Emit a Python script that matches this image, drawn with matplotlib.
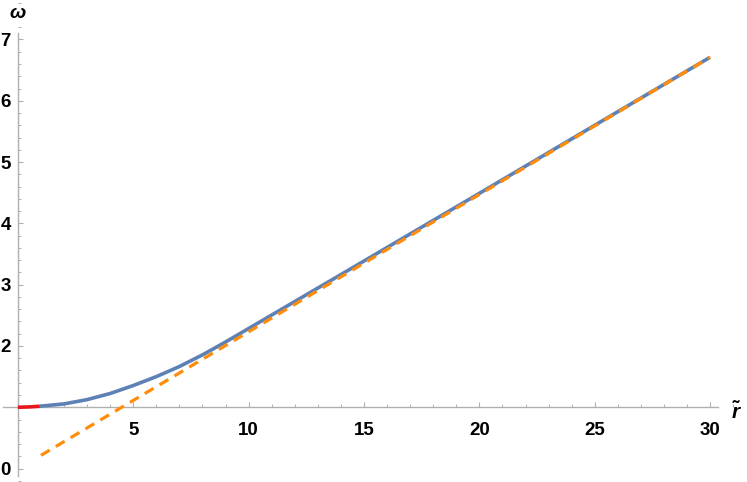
import matplotlib

matplotlib.use("Agg")
import matplotlib.pyplot as plt
from matplotlib.ticker import MultipleLocator

# values
red_r = [0.0, 0.5, 0.95]
red_w = [1.0, 1.006, 1.017]

blue_r = [0.95, 2, 3, 4, 5, 6, 7, 8, 9, 10, 11, 12, 13, 14, 20, 25, 30]
blue_w = [1.017, 1.055, 1.125, 1.225, 1.355, 1.50, 1.665, 1.855, 2.065, 2.285,
          2.505, 2.725, 2.945, 3.165, 4.49, 5.60, 6.71]

asym_r = [1.0, 30.0]
asym_w = [0.216, 6.71]

x_ticks = [5, 10, 15, 20, 25, 30]
y_ticks = [0, 2, 3, 4, 5, 6, 7]

AXIS_GRAY = "#b0b0b0"

plt.rcParams["font.family"] = ["Liberation Sans", "DejaVu Sans"]
plt.rcParams["mathtext.fontset"] = "custom"
plt.rcParams["mathtext.it"] = "Liberation Sans:italic:bold"
plt.rcParams["mathtext.rm"] = "Liberation Sans:bold"
plt.rcParams["mathtext.bf"] = "Liberation Sans:bold"

fig = plt.figure(figsize=(7.47, 4.82), dpi=100)
ax = fig.add_axes([0, 0, 1, 1])
ax.set_xlim(-0.776, 31.6)
ax.set_ylim(-0.219, 7.644)

ax.plot(blue_r, blue_w, color="#5e81b5", linewidth=2.6, solid_capstyle="butt",
        solid_joinstyle="round", zorder=3)
ax.plot(asym_r, asym_w, color="#ff8c0a", linewidth=2.3, dashes=(3.2, 2.2), zorder=4)
ax.plot(red_r, red_w, color="#e8161b", linewidth=2.6, solid_capstyle="butt", zorder=5)

for side in ("top", "right"):
    ax.spines[side].set_visible(False)
ax.spines["left"].set_position(("data", 0))
ax.spines["bottom"].set_position(("data", 1))
ax.spines["left"].set_bounds(-0.12, 7.1)
ax.spines["bottom"].set_bounds(-0.66, 30.33)
for side in ("left", "bottom"):
    ax.spines[side].set_color(AXIS_GRAY)
    ax.spines[side].set_linewidth(1.0)
ax.patch.set_visible(False)

ax.set_xticks(x_ticks)
ax.set_yticks(y_ticks)
ax.xaxis.set_minor_locator(MultipleLocator(1))
ax.yaxis.set_minor_locator(MultipleLocator(0.2))
ax.tick_params(which="major", direction="in", length=3.8, width=0.8, color=AXIS_GRAY,
               labelsize=13.5)
ax.tick_params(which="minor", direction="in", length=2.2, width=0.7, color=AXIS_GRAY)
ax.tick_params(axis="x", which="major", pad=10.5)
ax.tick_params(axis="y", which="major", pad=5)
for lab in ax.get_xticklabels() + ax.get_yticklabels():
    lab.set_fontweight("bold")

ax.text(0.0, 7.42, r"$\omega$", fontsize=14, ha="center", va="center")
ax.text(31.15, 0.92, r"$\tilde{r}$", fontsize=15, ha="center", va="center")

fig.savefig("out.png", dpi=100)
